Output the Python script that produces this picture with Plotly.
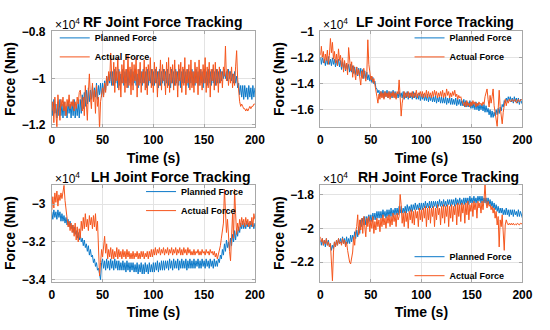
import plotly.graph_objects as go

# Time samples (s), 1 s apart
time_s = list(range(0, 201))

# Forces in units of 1e4 Nm (axes show "x10^4")
rf_planned = [
    -1.10, -1.16, -1.09, -1.15, -1.11, -1.17, -1.10, -1.16, -1.09, -1.16,
    -1.11, -1.17, -1.10, -1.16, -1.12, -1.17, -1.10, -1.15, -1.11, -1.17,
    -1.10, -1.16, -1.09, -1.17, -1.11, -1.16, -1.10, -1.17, -1.09, -1.15,
    -1.07, -1.13, -1.06, -1.12, -1.05, -1.11, -1.04, -1.10, -1.05, -1.09,
    -1.03, -1.09, -1.04, -1.08, -1.02, -1.09, -1.03, -1.07, -1.02, -1.08,
    -1.02, -1.07, -1.01, -1.05, -0.99, -1.03, -0.98, -1.02, -0.97, -1.03,
    -0.97, -1.03, -0.96, -1.02, -0.97, -1.04, -0.96, -1.03, -0.98, -1.02,
    -0.96, -1.03, -0.97, -1.02, -0.96, -1.04, -0.97, -1.02, -0.96, -1.03,
    -0.97, -1.02, -0.96, -1.03, -0.98, -1.04, -0.96, -1.02, -0.97, -1.03,
    -0.96, -1.02, -0.97, -1.04, -0.96, -1.03, -0.97, -1.02, -0.96, -1.03,
    -0.97, -1.03, -0.96, -1.02, -0.97, -1.04, -0.96, -1.03, -0.97, -1.02,
    -0.96, -1.03, -0.97, -1.02, -0.96, -1.03, -0.98, -1.04, -0.96, -1.02,
    -0.97, -1.03, -0.96, -1.02, -0.97, -1.03, -0.96, -1.04, -0.97, -1.02,
    -0.96, -1.02, -0.97, -1.03, -0.96, -1.04, -0.97, -1.02, -0.96, -1.03,
    -0.97, -1.03, -0.96, -1.02, -0.97, -1.03, -0.96, -1.02, -0.97, -1.04,
    -0.96, -1.02, -0.97, -1.03, -0.96, -1.02, -0.97, -1.03, -0.96, -1.02,
    -0.97, -1.03, -0.96, -1.02, -0.97, -1.02, -0.96, -1.01, -0.97, -1.00,
    -0.96, -1.00, -0.97, -1.01, -0.96, -1.00, -0.97, -1.01, -0.98, -1.02,
    -0.97, -1.02, -0.99, -1.04, -1.02, -1.07, -1.03, -1.08, -1.03, -1.09,
    -1.03, -1.08, -1.04, -1.09, -1.03, -1.08, -1.04, -1.09, -1.03, -1.08,
    -1.04,
]
rf_actual = [
    -1.14, -1.10, -1.19, -1.08, -1.15, -1.21, -1.07, -1.13, -1.18, -1.09,
    -1.12, -1.08, -1.14, -1.10, -1.16, -1.09, -1.12, -1.07, -1.13, -1.10,
    -1.12, -1.09, -1.14, -1.10, -1.13, -1.08, -1.11, -1.06, -1.05, -1.09,
    -1.14, -1.08, -1.16, -1.03, -1.11, -1.18, -1.06, -0.98, -1.08, -1.13,
    -1.02, -1.10, -1.05, -1.15, -1.03, -1.12, -1.08, -1.22, -1.10, -1.06,
    -1.04, -1.08, -1.02, -1.06, -0.99, -1.03, -0.97, -1.01, -0.89, -0.99,
    -1.03, -0.93, -1.06, -0.95, -1.01, -0.91, -1.05, -0.97, -1.08, -0.94,
    -1.02, -0.92, -1.06, -0.96, -1.04, -0.90, -1.03, -0.95, -1.07, -0.93,
    -1.05, -0.94, -1.01, -0.91, -1.08, -0.96, -1.03, -0.93, -1.06, -0.97,
    -1.02, -0.92, -1.05, -0.95, -1.07, -0.94, -1.01, -0.91, -1.04, -0.96,
    -1.06, -0.93, -1.02, -0.95, -1.08, -0.97, -1.03, -0.92, -1.05, -0.94,
    -1.01, -0.96, -1.07, -0.93, -1.04, -0.91, -1.06, -0.95, -1.02, -0.94,
    -1.05, -0.92, -1.03, -0.97, -1.08, -0.94, -1.01, -0.93, -1.06, -0.95,
    -1.03, -0.91, -1.07, -0.96, -1.02, -0.94, -1.05, -0.92, -1.04, -0.97,
    -1.06, -0.93, -1.02, -0.95, -1.07, -0.92, -1.03, -0.96, -1.05, -0.94,
    -1.02, -0.91, -1.06, -0.95, -1.04, -0.93, -1.08, -0.96, -1.01, -0.94,
    -1.05, -0.93, -1.03, -0.96, -1.06, -0.95, -1.02, -0.97, -1.04, -0.95,
    -0.99, -0.86, -1.01, -0.96, -1.03, -0.97, -1.02, -0.95, -1.04, -0.98,
    -1.03, -0.95, -0.88, -1.00, -1.06, -1.10, -1.12, -1.11, -1.12, -1.13,
    -1.13, -1.14, -1.13, -1.14, -1.13, -1.12, -1.13, -1.12, -1.12, -1.11,
    -1.11,
]
lf_planned = [
    -1.20, -1.25, -1.19, -1.24, -1.21, -1.26, -1.20, -1.25, -1.19, -1.25,
    -1.21, -1.26, -1.20, -1.25, -1.21, -1.27, -1.22, -1.26, -1.21, -1.27,
    -1.22, -1.29, -1.23, -1.28, -1.24, -1.30, -1.24, -1.29, -1.25, -1.31,
    -1.25, -1.31, -1.26, -1.32, -1.27, -1.33, -1.27, -1.34, -1.28, -1.34,
    -1.28, -1.35, -1.29, -1.36, -1.30, -1.36, -1.31, -1.37, -1.33, -1.38,
    -1.34, -1.39, -1.35, -1.40, -1.38, -1.43, -1.44, -1.47, -1.45, -1.50,
    -1.46, -1.50, -1.45, -1.51, -1.46, -1.50, -1.45, -1.51, -1.46, -1.50,
    -1.46, -1.51, -1.45, -1.50, -1.46, -1.51, -1.47, -1.51, -1.46, -1.50,
    -1.47, -1.51, -1.46, -1.52, -1.47, -1.51, -1.46, -1.52, -1.47, -1.51,
    -1.47, -1.52, -1.46, -1.51, -1.47, -1.52, -1.48, -1.52, -1.47, -1.53,
    -1.48, -1.52, -1.48, -1.53, -1.49, -1.53, -1.48, -1.54, -1.49, -1.53,
    -1.49, -1.54, -1.50, -1.54, -1.49, -1.55, -1.50, -1.54, -1.50, -1.55,
    -1.50, -1.55, -1.51, -1.55, -1.50, -1.56, -1.51, -1.55, -1.51, -1.56,
    -1.51, -1.56, -1.52, -1.56, -1.51, -1.57, -1.52, -1.56, -1.52, -1.57,
    -1.53, -1.57, -1.52, -1.58, -1.53, -1.58, -1.54, -1.58, -1.53, -1.59,
    -1.54, -1.59, -1.55, -1.60, -1.54, -1.60, -1.55, -1.61, -1.56, -1.60,
    -1.56, -1.61, -1.56, -1.62, -1.57, -1.62, -1.59, -1.64, -1.60, -1.66,
    -1.61, -1.66, -1.62, -1.65, -1.60, -1.64, -1.59, -1.63, -1.58, -1.61,
    -1.56, -1.58, -1.53, -1.55, -1.51, -1.54, -1.50, -1.53, -1.50, -1.54,
    -1.51, -1.55, -1.50, -1.54, -1.51, -1.55, -1.51, -1.56, -1.52, -1.55,
    -1.56,
]
lf_actual = [
    -1.18, -1.11, -1.20, -1.15, -1.24, -1.17, -1.22, -1.14, -1.25, -1.18,
    -1.05, -1.16, -1.08, -1.21, -1.15, -1.24, -1.17, -1.26, -1.13, -1.22,
    -1.18, -1.27, -1.20, -1.31, -1.22, -1.29, -1.24, -1.33, -1.12, -1.26,
    -1.30, -1.23, -1.35, -1.26, -1.31, -1.37, -1.27, -1.33, -1.29, -1.36,
    -1.41, -1.30, -1.36, -1.28, -1.33, -1.38, -1.32, -1.06, -1.25, -1.33,
    -1.37, -1.34, -1.39, -1.36, -1.42, -1.45, -1.50, -1.55, -1.48, -1.52,
    -1.46, -1.51, -1.47, -1.52, -1.46, -1.50, -1.47, -1.51, -1.46, -1.52,
    -1.47, -1.50, -1.46, -1.51, -1.47, -1.52, -1.46, -1.48, -1.37, -1.50,
    -1.65, -1.55, -1.49, -1.46, -1.51, -1.47, -1.50, -1.46, -1.51, -1.47,
    -1.50, -1.46, -1.51, -1.47, -1.50, -1.45, -1.51, -1.47, -1.49, -1.46,
    -1.50, -1.46, -1.51, -1.47, -1.50, -1.45, -1.51, -1.46, -1.50, -1.47,
    -1.51, -1.46, -1.50, -1.45, -1.49, -1.46, -1.51, -1.47, -1.50, -1.46,
    -1.50, -1.45, -1.51, -1.47, -1.50, -1.44, -1.49, -1.46, -1.51, -1.47,
    -1.50, -1.46, -1.49, -1.45, -1.50, -1.48, -1.52, -1.49, -1.51, -1.50,
    -1.53, -1.55, -1.57, -1.54, -1.58, -1.53, -1.57, -1.55, -1.58, -1.54,
    -1.57, -1.53, -1.56, -1.54, -1.58, -1.55, -1.57, -1.54, -1.56, -1.55,
    -1.57, -1.54, -1.56, -1.50, -1.47, -1.44, -1.52, -1.58, -1.49, -1.55,
    -1.50, -1.44, -1.57, -1.62, -1.68, -1.73, -1.60, -1.45, -1.58, -1.66,
    -1.71, -1.62, -1.56, -1.52, -1.57, -1.53, -1.55, -1.52, -1.54, -1.53,
    -1.52, -1.54, -1.53, -1.52, -1.55, -1.53, -1.52, -1.54, -1.53, -1.52,
    -1.53,
]
lh_planned = [
    -3.04, -3.08, -3.03, -3.07, -3.04, -3.08, -3.03, -3.07, -3.04, -3.09,
    -3.05, -3.09, -3.06, -3.10, -3.07, -3.11, -3.08, -3.12, -3.09, -3.13,
    -3.11, -3.15, -3.12, -3.16, -3.14, -3.18, -3.15, -3.19, -3.16, -3.20,
    -3.18, -3.22, -3.19, -3.23, -3.21, -3.25, -3.22, -3.27, -3.24, -3.28,
    -3.27, -3.31, -3.29, -3.33, -3.31, -3.35, -3.34, -3.38, -3.40, -3.31,
    -3.29, -3.34, -3.30, -3.35, -3.29, -3.34, -3.30, -3.35, -3.29, -3.34,
    -3.30, -3.35, -3.29, -3.34, -3.30, -3.35, -3.30, -3.35, -3.31, -3.35,
    -3.30, -3.35, -3.31, -3.36, -3.30, -3.35, -3.31, -3.36, -3.31, -3.35,
    -3.31, -3.36, -3.32, -3.36, -3.31, -3.37, -3.32, -3.36, -3.31, -3.37,
    -3.32, -3.37, -3.31, -3.36, -3.32, -3.37, -3.31, -3.36, -3.32, -3.36,
    -3.31, -3.36, -3.31, -3.35, -3.30, -3.36, -3.31, -3.35, -3.30, -3.35,
    -3.30, -3.35, -3.30, -3.34, -3.30, -3.35, -3.29, -3.34, -3.30, -3.35,
    -3.29, -3.34, -3.30, -3.34, -3.29, -3.35, -3.30, -3.34, -3.29, -3.34,
    -3.30, -3.34, -3.29, -3.35, -3.30, -3.34, -3.29, -3.34, -3.30, -3.34,
    -3.29, -3.34, -3.30, -3.33, -3.29, -3.34, -3.30, -3.34, -3.29, -3.33,
    -3.30, -3.34, -3.29, -3.33, -3.30, -3.34, -3.29, -3.33, -3.30, -3.34,
    -3.29, -3.33, -3.30, -3.33, -3.29, -3.31, -3.27, -3.29, -3.24, -3.27,
    -3.21, -3.25, -3.19, -3.23, -3.20, -3.24, -3.18, -3.22, -3.16, -3.20,
    -3.14, -3.19, -3.13, -3.17, -3.12, -3.15, -3.10, -3.13, -3.09, -3.13,
    -3.10, -3.13, -3.09, -3.12, -3.10, -3.13, -3.09, -3.12, -3.10, -3.13,
    -3.10,
]
lh_actual = [
    -3.03, -2.96, -3.02, -2.94, -2.99, -2.93, -3.01, -2.95, -2.98, -2.94,
    -2.97, -2.92, -2.90, -2.98, -3.04, -3.08, -3.12, -3.09, -3.14, -3.10,
    -3.15, -3.11, -3.17, -3.10, -3.19, -3.12, -3.20, -3.13, -3.18, -3.09,
    -3.14, -3.07, -3.13, -3.05, -3.12, -3.08, -3.14, -3.06, -3.11, -3.07,
    -3.13, -3.06, -3.12, -3.05, -3.14, -3.09, -3.20, -3.38, -3.31, -3.24,
    -3.28, -3.22, -3.17, -3.26, -3.21, -3.29, -3.24, -3.28, -3.23, -3.29,
    -3.24, -3.29, -3.25, -3.28, -3.23, -3.29, -3.24, -3.28, -3.25, -3.29,
    -3.24, -3.28, -3.25, -3.29, -3.24, -3.28, -3.25, -3.29, -3.26, -3.29,
    -3.25, -3.29, -3.26, -3.28, -3.25, -3.29, -3.26, -3.29, -3.25, -3.28,
    -3.25, -3.29, -3.26, -3.28, -3.25, -3.29, -3.25, -3.28, -3.24, -3.28,
    -3.24, -3.27, -3.23, -3.27, -3.24, -3.26, -3.23, -3.27, -3.24, -3.26,
    -3.23, -3.27, -3.24, -3.26, -3.23, -3.27, -3.24, -3.26, -3.23, -3.27,
    -3.24, -3.26, -3.23, -3.27, -3.24, -3.26, -3.23, -3.27, -3.24, -3.27,
    -3.23, -3.26, -3.24, -3.27, -3.23, -3.26, -3.24, -3.27, -3.25, -3.27,
    -3.24, -3.27, -3.25, -3.26, -3.24, -3.27, -3.25, -3.27, -3.24, -3.26,
    -3.25, -3.27, -3.24, -3.26, -3.25, -3.27, -3.24, -3.26, -3.25, -3.27,
    -3.25, -3.28, -3.26, -3.29, -3.27, -3.25, -3.22, -3.18, -3.15, -3.10,
    -2.92, -3.05, -3.15, -3.08, -3.20, -3.25, -3.30, -3.12, -3.05, -3.18,
    -2.92, -3.05, -3.16, -3.10, -3.14, -3.08, -3.12, -3.07, -3.11, -3.08,
    -3.12, -3.07, -3.11, -3.08, -3.12, -3.09, -3.11, -3.07, -3.12, -3.05,
    -3.08,
]
rh_planned = [
    -2.07, -2.10, -2.06, -2.10, -2.07, -2.11, -2.06, -2.10, -2.07, -2.11,
    -2.09, -2.13, -2.10, -2.12, -2.08, -2.11, -2.07, -2.10, -2.06, -2.09,
    -2.06, -2.09, -2.05, -2.09, -2.06, -2.10, -2.05, -2.09, -2.06, -2.09,
    -2.04, -2.08, -2.04, -2.07, -2.02, -2.06, -2.01, -2.05, -1.99, -2.03,
    -1.95, -1.99, -1.94, -1.98, -1.93, -1.98, -1.93, -1.97, -1.92, -1.96,
    -1.92, -1.96, -1.91, -1.95, -1.91, -1.95, -1.90, -1.94, -1.90, -1.94,
    -1.90, -1.94, -1.89, -1.93, -1.90, -1.94, -1.89, -1.93, -1.89, -1.93,
    -1.88, -1.93, -1.89, -1.92, -1.88, -1.92, -1.88, -1.92, -1.87, -1.91,
    -1.87, -1.91, -1.88, -1.91, -1.87, -1.91, -1.86, -1.90, -1.87, -1.90,
    -1.86, -1.90, -1.86, -1.89, -1.85, -1.89, -1.86, -1.89, -1.85, -1.89,
    -1.85, -1.89, -1.85, -1.88, -1.84, -1.88, -1.85, -1.88, -1.84, -1.88,
    -1.84, -1.88, -1.84, -1.87, -1.84, -1.88, -1.84, -1.87, -1.83, -1.87,
    -1.84, -1.87, -1.83, -1.87, -1.84, -1.87, -1.83, -1.86, -1.83, -1.87,
    -1.83, -1.86, -1.83, -1.87, -1.82, -1.86, -1.83, -1.86, -1.82, -1.86,
    -1.83, -1.86, -1.82, -1.86, -1.82, -1.85, -1.82, -1.86, -1.81, -1.85,
    -1.82, -1.85, -1.81, -1.85, -1.82, -1.85, -1.81, -1.84, -1.81, -1.85,
    -1.81, -1.85, -1.82, -1.85, -1.82, -1.86, -1.82, -1.86, -1.83, -1.87,
    -1.84, -1.88, -1.85, -1.89, -1.86, -1.90, -1.87, -1.91, -1.88, -1.91,
    -1.88, -1.92, -1.89, -1.92, -1.88, -1.92, -1.89, -1.93, -1.89, -1.92,
    -1.89, -1.93, -1.89, -1.92, -1.90, -1.93, -1.89, -1.93, -1.90, -1.93,
    -1.94,
]
rh_actual = [
    -2.05, -2.08, -2.06, -2.10, -2.07, -2.09, -2.06, -2.10, -2.08, -2.11,
    -2.09, -2.18, -2.31, -2.14, -2.08, -2.11, -2.07, -2.10, -2.06, -2.09,
    -2.08, -2.10, -2.06, -2.09, -2.07, -2.11, -2.08, -2.13, -2.17, -2.20,
    -2.21, -2.18, -2.14, -2.05, -2.10, -2.02, -1.99, -1.92, -2.04, -1.95,
    -2.01, -1.94, -2.03, -1.93, -1.98, -2.05, -1.94, -1.99, -1.93, -2.02,
    -1.95, -2.00, -1.93, -2.03, -1.96, -2.01, -1.94, -1.99, -1.95, -2.02,
    -1.94, -1.99, -1.92, -1.98, -1.94, -2.00, -1.93, -1.97, -1.92, -1.99,
    -1.93, -1.98, -1.91, -1.96, -1.92, -1.99, -1.91, -1.95, -1.93, -1.80,
    -1.86, -1.97, -1.91, -1.99, -1.90, -1.96, -1.91, -2.00, -1.90, -1.95,
    -1.89, -1.97, -1.90, -1.98, -1.89, -1.94, -1.90, -1.99, -1.88, -1.95,
    -1.89, -1.96, -1.88, -1.94, -1.87, -1.99, -1.88, -1.95, -1.87, -1.97,
    -1.88, -1.93, -1.87, -1.99, -1.88, -1.95, -1.86, -1.92, -1.88, -1.98,
    -1.87, -1.94, -1.86, -1.97, -1.87, -1.93, -1.86, -1.99, -1.87, -1.94,
    -1.86, -1.96, -1.87, -1.92, -1.86, -1.98, -1.85, -1.93, -1.86, -1.96,
    -1.85, -1.91, -1.86, -1.97, -1.85, -1.92, -1.84, -1.95, -1.86, -1.90,
    -1.85, -1.93, -1.84, -1.89, -1.85, -1.94, -1.84, -1.88, -1.85, -1.91,
    -1.84, -1.89, -1.83, -1.74, -1.85, -1.88, -1.84, -1.87, -1.86, -1.89,
    -1.87, -1.91, -1.88, -1.94, -1.90, -1.98, -1.93, -2.11, -1.95, -1.99,
    -1.92, -2.00, -2.13, -1.98, -1.95, -1.97, -1.98, -1.97, -1.98, -1.97,
    -1.98, -1.97, -1.98, -1.975, -1.98, -1.97, -1.975, -1.98, -1.97, -1.975,
    -1.975,
]

x_ticks = [0, 50, 100, 150, 200]
x_tick_text = ["0", "50", "100", "150", "200"]

panels = [
    dict(title="RF Joint Force Tracking", planned=rf_planned, actual=rf_actual,
         yticks=[-1.2, -1.0, -0.8], ytext=["\u22121.2", "\u22121", "\u22120.8"],
         yrange=[-1.208, -0.796]),
    dict(title="LF Joint Force Tracking", planned=lf_planned, actual=lf_actual,
         yticks=[-1.6, -1.4, -1.2, -1.0], ytext=["\u22121.6", "\u22121.4", "\u22121.2", "\u22121"],
         yrange=[-1.733, -0.993]),
    dict(title="LH Joint Force Tracking", planned=lh_planned, actual=lh_actual,
         yticks=[-3.4, -3.2, -3.0], ytext=["\u22123.4", "\u22123.2", "\u22123"],
         yrange=[-3.41, -2.897]),
    dict(title="RH Joint Force Tracking", planned=rh_planned, actual=rh_actual,
         yticks=[-2.2, -2.0, -1.8], ytext=["\u22122.2", "\u22122", "\u22121.8"],
         yrange=[-2.314, -1.743]),
]

W, H = 550, 330
# pixel boxes (left, right, top, bottom)
boxes = [(50, 258, 26, 125), (325, 532, 26, 125), (50, 258, 185, 285), (325, 532, 185, 285)]
title_pos = [(163, 17), (442, 17), (172, 177), (446, 177)]
exp_pos = [(51, 19), (326, 19), (51, 178), (326, 178)]
# legend anchors: (x px, y px, xanchor, yanchor)
legend_pos = [(53, 18, "left", "top"), (527, 18, "right", "top"),
              (252, 177, "right", "top"), (527, 294, "right", "bottom")]

BLUE = "#0A78C8"
ORANGE = "#F5561D"
FONT = "Liberation Sans, Arial, sans-serif"
GRID = "#E3E3E3"
AXC = "#A8A8A8"

fig = go.Figure()
layout = dict(width=W, height=H, margin=dict(l=0, r=0, t=0, b=0),
              paper_bgcolor="white", plot_bgcolor="white",
              font=dict(family=FONT, color="black"), annotations=[])

for i, p in enumerate(panels):
    n = "" if i == 0 else str(i + 1)
    leg = "legend" + n
    fig.add_trace(go.Scatter(x=time_s, y=p["planned"], mode="lines", name="Planned Force",
                             line=dict(color=BLUE, width=1), xaxis="x" + n, yaxis="y" + n,
                             legend=leg))
    fig.add_trace(go.Scatter(x=time_s, y=p["actual"], mode="lines", name="Actual Force",
                             line=dict(color=ORANGE, width=1), xaxis="x" + n, yaxis="y" + n,
                             legend=leg))
    l, r, t, b = boxes[i]
    axcommon = dict(showline=True, linecolor=AXC, linewidth=1, mirror="ticks",
                    ticks="inside", ticklen=3, tickcolor=AXC, showgrid=True,
                    gridcolor=GRID, gridwidth=1, zeroline=False,
                    tickfont=dict(family=FONT, size=12, color="black", weight="bold"))
    layout["xaxis" + n] = dict(axcommon, domain=[l / W, r / W], range=[0, 200],
                               tickvals=x_ticks, ticktext=x_tick_text,
                               anchor="y" + n, ticklabelstandoff=2,
                               title=dict(text="Time (s)", standoff=6,
                                          font=dict(family=FONT, size=14, weight="bold")))
    layout["yaxis" + n] = dict(axcommon, domain=[1 - b / H, 1 - t / H], range=p["yrange"],
                               tickvals=p["yticks"], ticktext=p["ytext"],
                               anchor="x" + n, ticklabelstandoff=3,
                               title=dict(text="Force (Nm)", standoff=2,
                                          font=dict(family=FONT, size=14, weight="bold")))
    lx, ly, xa, ya = legend_pos[i]
    layout[leg] = dict(x=lx / W, y=1 - ly / H, xanchor=xa, yanchor=ya,
                       bgcolor="rgba(0,0,0,0)", borderwidth=0,
                       font=dict(family=FONT, size=9, color="black", weight="bold"),
                       tracegroupgap=0, itemwidth=30)
    tx, ty = title_pos[i]
    layout["annotations"].append(dict(text=p["title"], x=tx / W, y=1 - ty / H,
                                      xref="paper", yref="paper", xanchor="center",
                                      yanchor="middle", showarrow=False,
                                      font=dict(family=FONT, size=14, weight="bold")))
    ex, ey = exp_pos[i]
    layout["annotations"].append(dict(text="\u00d710<sup>4</sup>", x=ex / W, y=1 - ey / H,
                                      xref="paper", yref="paper", xanchor="left",
                                      yanchor="middle", showarrow=False,
                                      font=dict(family=FONT, size=12)))

fig.update_layout(**layout)
fig.write_html("out.html", config={"displayModeBar": False},
               post_script="document.body.style.margin='0';")
